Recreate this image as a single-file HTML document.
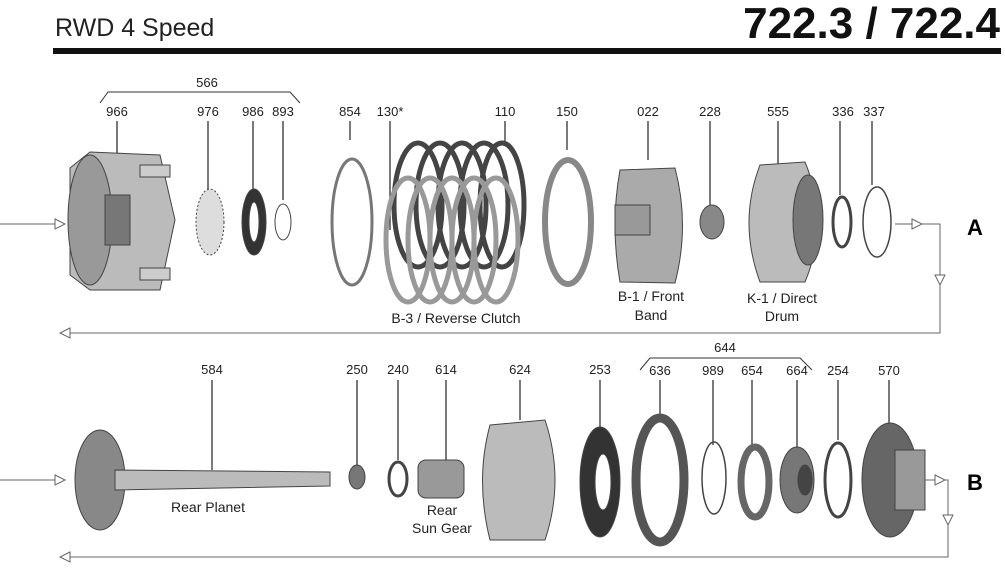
<!DOCTYPE html>
<html><head><style>
html,body{margin:0;padding:0;background:#fff;}
svg{display:block;font-family:"Liberation Sans",Arial,sans-serif;}
.l{font-size:13px;fill:#222;text-anchor:middle}
.c{font-size:14px;fill:#222;text-anchor:middle}
</style></head><body>
<svg width="1005" height="576" viewBox="0 0 1005 576">
<text x="55" y="36" font-size="25" fill="#222">RWD 4 Speed</text>
<text x="1000" y="38" font-size="44" font-weight="bold" fill="#111" text-anchor="end">722.3 / 722.4</text>
<rect x="53" y="48" width="948" height="6" fill="#111"/>

<!-- row A labels -->
<g class="l">
<text x="207" y="87">566</text>
<text x="117" y="116">966</text><text x="208" y="116">976</text><text x="253" y="116">986</text><text x="283" y="116">893</text>
<text x="350" y="116">854</text><text x="390" y="116">130*</text><text x="505" y="116">110</text><text x="567" y="116">150</text>
<text x="648" y="116">022</text><text x="710" y="116">228</text><text x="778" y="116">555</text><text x="843" y="116">336</text><text x="874" y="116">337</text>
</g>
<path d="M100 103 L108 92 L290 92 L300 103" fill="none" stroke="#333"/>
<g stroke="#222" stroke-width="1.2">
<line x1="117" y1="121" x2="117" y2="158"/><line x1="208" y1="121" x2="208" y2="190"/><line x1="253" y1="121" x2="253" y2="190"/><line x1="283" y1="121" x2="283" y2="200"/>
<line x1="350" y1="121" x2="350" y2="140"/><line x1="390" y1="121" x2="390" y2="230"/><line x1="505" y1="121" x2="505" y2="145"/><line x1="567" y1="121" x2="567" y2="150"/>
<line x1="648" y1="121" x2="648" y2="160"/><line x1="710" y1="121" x2="710" y2="205"/><line x1="778" y1="121" x2="778" y2="165"/><line x1="840" y1="121" x2="840" y2="195"/><line x1="872" y1="121" x2="872" y2="185"/>
</g>

<!-- row A parts -->
<g stroke="#444">
<path d="M70 168 L90 152 L160 155 L175 220 L160 290 L90 290 L70 275 Z" fill="#bbb"/>
<ellipse cx="90" cy="220" rx="22" ry="65" fill="#999"/>
<rect x="105" y="195" width="25" height="50" fill="#777"/>
<rect x="140" y="165" width="30" height="12" fill="#ccc"/><rect x="140" y="268" width="30" height="12" fill="#ccc"/>
<ellipse cx="210" cy="222" rx="14" ry="33" fill="#ddd" stroke-dasharray="2 2"/>
<ellipse cx="254" cy="222" rx="12" ry="33" fill="#333"/><ellipse cx="254" cy="222" rx="5" ry="20" fill="#fff"/>
<ellipse cx="283" cy="222" rx="8" ry="18" fill="none"/>
<ellipse cx="352" cy="222" rx="20" ry="63" fill="none" stroke="#777" stroke-width="3"/>
</g>
<g fill="none" stroke-width="5">
<ellipse cx="418" cy="205" rx="24" ry="62" stroke="#444"/><ellipse cx="440" cy="205" rx="24" ry="62" stroke="#444"/><ellipse cx="462" cy="205" rx="24" ry="62" stroke="#444"/><ellipse cx="484" cy="205" rx="24" ry="62" stroke="#444"/><ellipse cx="502" cy="205" rx="22" ry="62" stroke="#444"/>
<ellipse cx="408" cy="240" rx="22" ry="62" stroke="#999"/><ellipse cx="430" cy="240" rx="22" ry="62" stroke="#999"/><ellipse cx="452" cy="240" rx="22" ry="62" stroke="#999"/><ellipse cx="474" cy="240" rx="22" ry="62" stroke="#999"/><ellipse cx="496" cy="240" rx="22" ry="62" stroke="#999"/>
<ellipse cx="568" cy="222" rx="23" ry="62" stroke="#888" stroke-width="6"/>
</g>
<text class="c" x="456" y="323">B-3 / Reverse Clutch</text>
<g stroke="#444">
<path d="M620 170 L675 168 Q690 225 675 283 L620 282 Q610 225 620 170Z" fill="#aaa"/>
<rect x="615" y="205" width="35" height="30" fill="#999"/>
<ellipse cx="712" cy="222" rx="12" ry="17" fill="#888"/>
<path d="M760 165 L805 162 Q830 222 805 282 L760 282 Q738 222 760 165Z" fill="#bbb"/>
<ellipse cx="808" cy="220" rx="15" ry="45" fill="#777"/>
<ellipse cx="842" cy="222" rx="9" ry="25" fill="none" stroke-width="3"/>
<ellipse cx="877" cy="222" rx="14" ry="35" fill="none" stroke-width="1.5"/>
</g>
<text class="c" x="651" y="301">B-1 / Front</text><text class="c" x="651" y="320">Band</text>
<text class="c" x="782" y="303">K-1 / Direct</text><text class="c" x="782" y="321">Drum</text>
<text x="975" y="235" font-size="22" font-weight="bold" text-anchor="middle">A</text>

<!-- row A connectors -->
<g stroke="#666" fill="#fff">
<line x1="0" y1="224" x2="55" y2="224"/><path d="M55 219 L65 224 L55 229Z"/>
<line x1="895" y1="224" x2="912" y2="224"/><path d="M912 219 L922 224 L912 229Z"/>
<polyline points="922,224 940,224 940,275" fill="none"/><path d="M935 275 L940 285 L945 275Z"/>
<polyline points="940,285 940,333 70,333" fill="none"/><path d="M70 328 L60 333 L70 338Z"/>
</g>

<!-- row B labels -->
<g class="l">
<text x="212" y="374">584</text><text x="357" y="374">250</text><text x="398" y="374">240</text><text x="446" y="374">614</text><text x="520" y="374">624</text>
<text x="600" y="374">253</text><text x="725" y="352">644</text><text x="660" y="375">636</text><text x="713" y="375">989</text><text x="752" y="375">654</text><text x="797" y="375">664</text><text x="838" y="375">254</text><text x="889" y="375">570</text>
</g>
<path d="M640 370 L650 358 L800 358 L812 370" fill="none" stroke="#333"/>
<g stroke="#222" stroke-width="1.2">
<line x1="212" y1="380" x2="212" y2="470"/><line x1="357" y1="380" x2="357" y2="465"/><line x1="398" y1="380" x2="398" y2="460"/><line x1="446" y1="380" x2="446" y2="470"/><line x1="520" y1="380" x2="520" y2="420"/>
<line x1="600" y1="380" x2="600" y2="430"/><line x1="660" y1="380" x2="660" y2="418"/><line x1="713" y1="380" x2="713" y2="445"/><line x1="752" y1="380" x2="752" y2="445"/><line x1="797" y1="380" x2="797" y2="450"/><line x1="838" y1="380" x2="838" y2="440"/><line x1="889" y1="380" x2="889" y2="430"/>
</g>
<g stroke="#444">
<ellipse cx="100" cy="480" rx="25" ry="50" fill="#888"/>
<path d="M115 470 L330 472 L330 486 L115 490Z" fill="#bbb"/>
<ellipse cx="357" cy="477" rx="8" ry="12" fill="#777"/>
<ellipse cx="398" cy="479" rx="9" ry="17" fill="none" stroke-width="3"/>
<rect x="418" y="460" width="46" height="38" rx="8" fill="#999"/>
<path d="M490 425 L545 420 Q565 480 545 540 L490 540 Q475 480 490 425Z" fill="#bbb"/>
<ellipse cx="600" cy="482" rx="20" ry="55" fill="#333"/><ellipse cx="603" cy="482" rx="8" ry="28" fill="#fff"/>
<ellipse cx="660" cy="480" rx="24" ry="62" fill="none" stroke="#555" stroke-width="9"/>
<ellipse cx="714" cy="478" rx="12" ry="36" fill="none" stroke-width="1.5"/>
<ellipse cx="755" cy="482" rx="14" ry="35" fill="none" stroke="#666" stroke-width="7"/>
<ellipse cx="797" cy="480" rx="17" ry="33" fill="#777"/><ellipse cx="805" cy="480" rx="7" ry="15" fill="#444"/>
<ellipse cx="838" cy="480" rx="13" ry="37" fill="none" stroke-width="3"/>
<ellipse cx="890" cy="480" rx="28" ry="57" fill="#666"/><rect x="895" y="450" width="30" height="60" fill="#999"/>
</g>
<text class="c" x="208" y="512">Rear Planet</text>
<text class="c" x="442" y="515">Rear</text><text class="c" x="442" y="533">Sun Gear</text>
<text x="975" y="490" font-size="22" font-weight="bold" text-anchor="middle">B</text>
<g stroke="#666" fill="#fff">
<line x1="0" y1="480" x2="55" y2="480"/><path d="M55 475 L65 480 L55 485Z"/>
<line x1="925" y1="480" x2="935" y2="480"/><path d="M935 475 L945 480 L935 485Z"/>
<polyline points="945,480 948,480 948,515" fill="none"/><path d="M943 515 L948 525 L953 515Z"/>
<polyline points="948,525 948,557 70,557" fill="none"/><path d="M70 552 L60 557 L70 562Z"/>
</g>
</svg>
</body></html>
